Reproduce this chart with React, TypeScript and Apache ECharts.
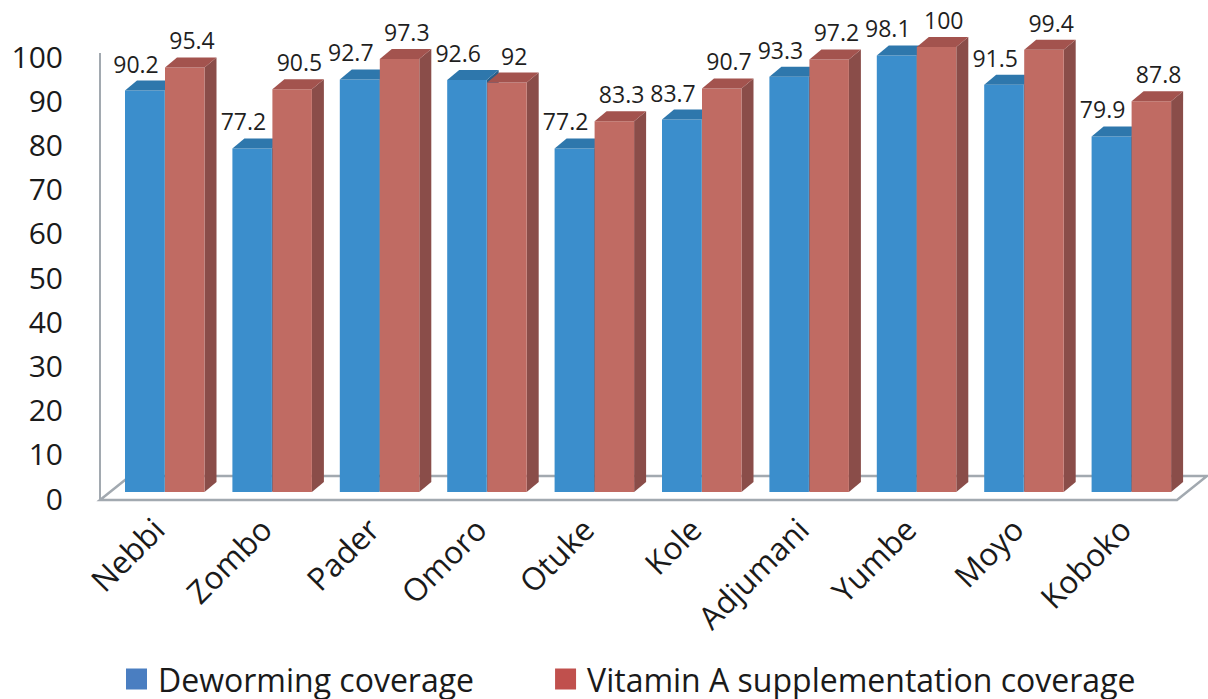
import React, { useEffect, useRef } from "react";
import * as echarts from "echarts";

const categories = ["Nebbi", "Zombo", "Pader", "Omoro", "Otuke", "Kole", "Adjumani", "Yumbe", "Moyo", "Koboko"];
const deworming = [90.2, 77.2, 92.7, 92.6, 77.2, 83.7, 93.3, 98.1, 91.5, 79.9];
const vitaminA = [95.4, 90.5, 97.3, 92, 83.3, 90.7, 97.2, 100, 99.4, 87.8];
const yTicks = [0, 100, 10];
const seriesNames = ["Deworming coverage", "Vitamin A supplementation coverage"];

const FONT = "Open Sans";
const BAR_W = 39.5;
const DX = 12;
const DY = -10;

const palettes = [
  { front: "#3B8ECC", top: "#2E77AC", side: "#285F8A", legend: "#4A7EC1" },
  { front: "#C06B63", top: "#A3534E", side: "#8A4D49", legend: "#C0504D" },
];

function makeRender(idx: number) {
  const pal = palettes[idx];
  return (params: any, api: any) => {
    const cat = api.value(0);
    const val = api.value(1);
    const top = api.coord([cat, val]);
    const base = api.coord([cat, 0]);
    const cx = top[0];
    const x0 = idx === 0 ? cx - 40 : cx;
    const x1 = x0 + BAR_W;
    const ty = top[1];
    const by = base[1];
    const labelX = idx === 0 ? cx - 29 : cx + 27;
    return {
      type: "group",
      children: [
        {
          type: "polygon",
          shape: { points: [[x1, ty], [x1 + DX, ty + DY], [x1 + DX, by + DY], [x1, by]] },
          style: { fill: pal.side },
        },
        {
          type: "rect",
          shape: { x: x0, y: ty, width: BAR_W, height: by - ty },
          style: { fill: pal.front },
        },
        {
          type: "polygon",
          shape: { points: [[x0, ty], [x1, ty], [x1 + DX, ty + DY], [x0 + DX, ty + DY]] },
          style: { fill: pal.top },
        },
        {
          type: "text",
          style: {
            x: labelX,
            y: ty - 27,
            text: String(val),
            fill: "#1F1F1F",
            font: `23px "${FONT}"`,
            align: "center",
            verticalAlign: "middle",
          },
          z2: 10,
        },
      ],
    };
  };
}

export default function App() {
  const ref = useRef<HTMLDivElement>(null);
  useEffect(() => {
    if (!ref.current) return;
    const chart = echarts.init(ref.current, undefined, { renderer: "svg" });
    const d0 = deworming.map((v, i) => [i, v]);
    const d1 = vitaminA.map((v, i) => [i, v]);
    chart.setOption({
      animation: false,
      backgroundColor: "#FFFFFF",
      textStyle: { fontFamily: FONT },
      grid: [
        { left: 111.3, right: 22.7, top: 47, bottom: 207 },
        { left: 71, width: 20, top: 56, bottom: 201 },
      ],
      xAxis: [
        {
          type: "category",
          gridIndex: 0,
          data: categories,
          axisLine: { show: false },
          axisTick: { show: false },
          axisLabel: {
            rotate: 45,
            margin: 24,
            fontSize: 31.5,
            fontFamily: FONT,
            color: "#1A1A1A",
            padding: [0, 10, 0, 0],
            interval: 0,
          },
        },
        { type: "value", gridIndex: 1, show: false },
      ],
      yAxis: [
        { type: "value", gridIndex: 0, min: yTicks[0], max: yTicks[1], show: false },
        {
          type: "value",
          gridIndex: 1,
          min: yTicks[0],
          max: yTicks[1],
          interval: yTicks[2],
          axisLine: { show: false },
          axisTick: { show: false },
          splitLine: { show: false },
          axisLabel: { margin: 8, fontSize: 30, fontFamily: FONT, color: "#1A1A1A" },
        },
      ],
      legend: {
        left: 121,
        top: 656,
        itemWidth: 21,
        itemHeight: 21,
        itemGap: 81,
        icon: "rect",
        textStyle: { fontSize: 32, lineHeight: 36, fontFamily: FONT, color: "#1A1A1A", padding: [0, 0, 0, 6] },
        data: [
          { name: seriesNames[0], itemStyle: { color: palettes[0].legend } },
          { name: seriesNames[1], itemStyle: { color: palettes[1].legend } },
        ],
      },
      graphic: [
        {
          type: "polygon",
          z: 0,
          shape: { points: [[100, 500], [1177, 500], [1207, 476], [130, 476]] },
          style: { fill: "#FFFFFF", stroke: "#A2A9B0", lineWidth: 2.5 },
        },
        {
          type: "line",
          z: 0,
          shape: { x1: 100, y1: 53, x2: 100, y2: 500 },
          style: { stroke: "#A2A9B0", lineWidth: 2 },
        },
      ],
      series: [
        {
          name: seriesNames[0],
          type: "custom",
          z: 2,
          xAxisIndex: 0,
          yAxisIndex: 0,
          itemStyle: { color: palettes[0].legend },
          data: d0,
          renderItem: makeRender(0),
        },
        {
          name: seriesNames[1],
          type: "custom",
          z: 3,
          xAxisIndex: 0,
          yAxisIndex: 0,
          itemStyle: { color: palettes[1].legend },
          data: d1,
          renderItem: makeRender(1),
        },
      ],
    });
    return () => chart.dispose();
  }, []);
  return (
    <div
      ref={ref}
      style={{ position: "fixed", left: 0, top: 0, width: 1208, height: 699 }}
    />
  );
}
